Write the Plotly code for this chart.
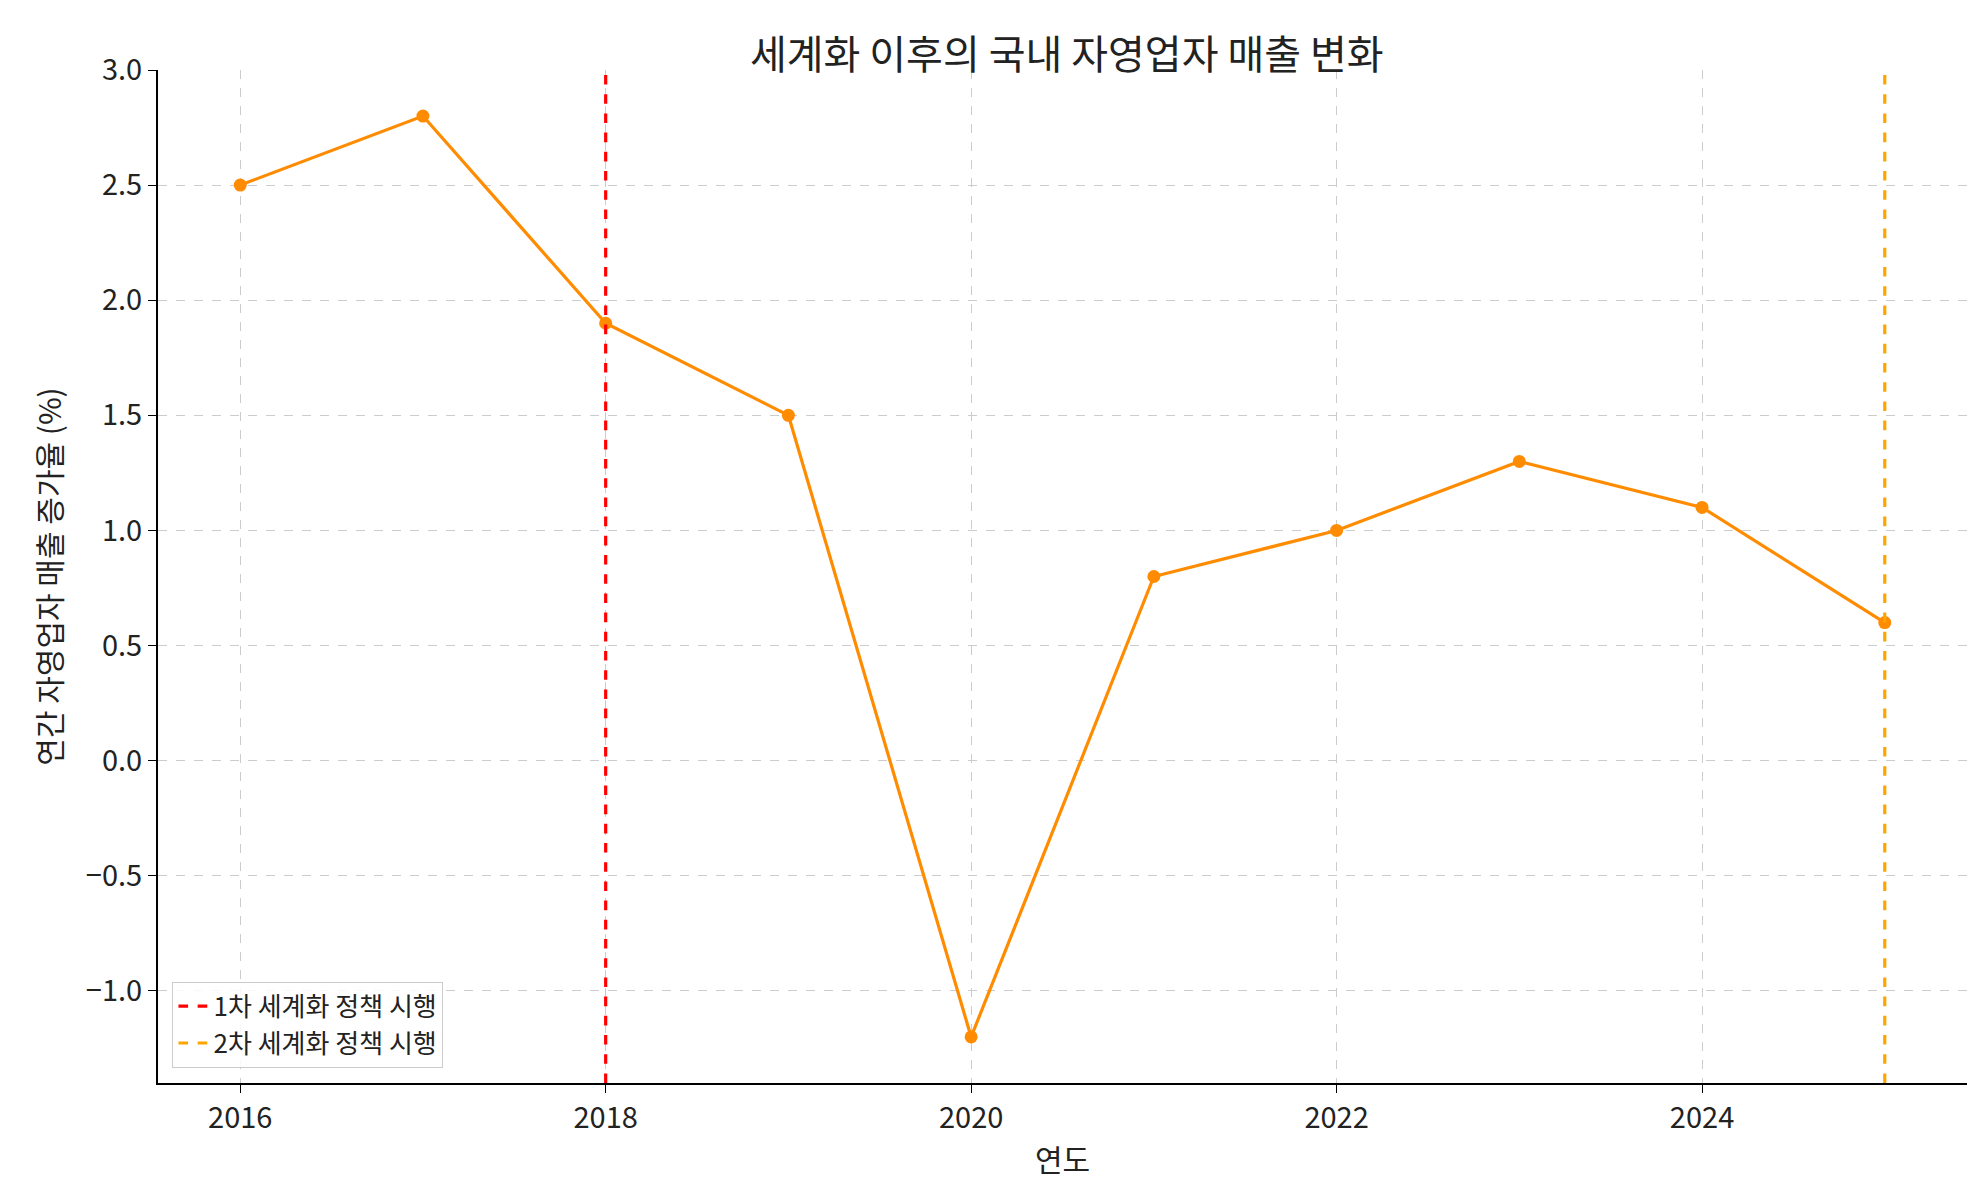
import plotly.graph_objects as go

years = [2016, 2017, 2018, 2019, 2020, 2021, 2022, 2023, 2024, 2025]
values = [2.5, 2.8, 1.9, 1.5, -1.2, 0.8, 1.0, 1.3, 1.1, 0.6]
event1_year = 2018
event2_year = 2025
event1_label = "1차 세계화 정책 시행"
event2_label = "2차 세계화 정책 시행"
y_lo, y_hi = -1.4, 3.0

F = "Noto Sans CJK KR, DejaVu Sans"
fig = go.Figure()
fig.add_trace(go.Scatter(x=years, y=values, mode="lines+markers",
    line=dict(color="#FF8C00", width=3.2), marker=dict(size=13, color="#FF8C00"), showlegend=False))
fig.add_trace(go.Scatter(x=[event1_year]*2, y=[y_lo, y_hi], mode="lines",
    line=dict(color="red", width=3.2, dash="dash"), name=event1_label))
fig.add_trace(go.Scatter(x=[event2_year]*2, y=[y_lo, y_hi], mode="lines",
    line=dict(color="orange", width=3.2, dash="dash"), name=event2_label))

ax = dict(showgrid=True, gridcolor="#cccccc", griddash="dash", gridwidth=1,
          showline=True, linecolor="black", linewidth=2, ticks="outside",
          ticklen=8, tickcolor="black", zeroline=False,
          tickfont=dict(size=29, color="#222"), mirror=False)
fig.update_layout(
    width=1979, height=1180, plot_bgcolor="white", paper_bgcolor="white",
    font=dict(family=F, color="#222"),
    title=dict(text="세계화 이후의 국내 자영업자 매출 변화", x=0.535, xanchor="center",
               y=0.972, font=dict(size=40)),
    margin=dict(l=150, r=20, t=62, b=105),
    xaxis=dict(ax, range=[2015.55, 2025.45], dtick=2,
               title=dict(text="연도", font=dict(size=30))),
    yaxis=dict(ax, range=[y_lo, y_hi], dtick=0.5, tickformat=".1f",
               title=dict(text="연간 자영업자 매출 증가율 (%)", font=dict(size=30))),
    legend=dict(x=0.008, y=0.015, xanchor="left", yanchor="bottom",
                bordercolor="#cccccc", borderwidth=1, bgcolor="rgba(255,255,255,0.85)",
                font=dict(size=26)),
)
fig.write_html("out.html")
